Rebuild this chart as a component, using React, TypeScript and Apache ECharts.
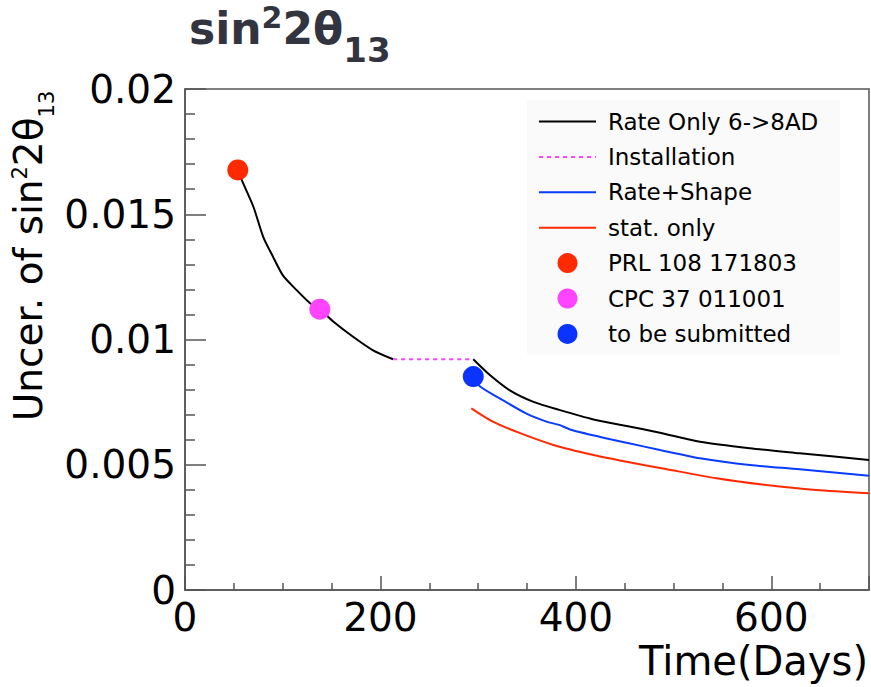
import React, { useEffect, useRef } from "react";
import * as echarts from "echarts";

const FONT = "DejaVu Sans";

// Rate Only 6->8AD, before the installation period
const rateOnlyDaysA = [54, 58, 70, 80, 90, 100, 114, 128, 138, 152, 172, 192, 213];
const rateOnlyUncA = [0.01677, 0.01637, 0.0153, 0.0141, 0.01331, 0.01257, 0.01198, 0.01145, 0.01121, 0.01071, 0.01011, 0.00958, 0.00921];
// Installation gap
const installDays = [213, 295];
const installUnc = [0.00921, 0.00921];
// Rate Only 6->8AD, after installation
const rateOnlyDaysB = [295, 312, 332, 356, 383, 418, 452, 486, 527, 578, 629, 700];
const rateOnlyUncB = [0.00921, 0.00858, 0.00798, 0.00752, 0.00719, 0.00681, 0.00655, 0.00628, 0.00592, 0.00566, 0.00546, 0.00519];
// Rate+Shape
const rateShapeDays = [295, 302, 322, 349, 370, 383, 394, 424, 452, 486, 527, 578, 629, 700];
const rateShapeUnc = [0.0085, 0.00812, 0.00765, 0.00705, 0.00672, 0.00659, 0.00641, 0.00612, 0.00588, 0.00559, 0.00526, 0.00499, 0.00482, 0.00456];
// stat. only
const statDays = [293, 315, 343, 377, 418, 452, 492, 544, 595, 646, 700];
const statUnc = [0.00725, 0.00672, 0.00626, 0.00579, 0.00539, 0.00512, 0.00483, 0.00446, 0.00419, 0.00399, 0.00386];
// Published / planned results
const prlPoint = [54, 0.01677];
const cpcPoint = [138, 0.01121];
const submitPoint = [295, 0.00852];

const legendNames = [
  "Rate Only 6->8AD",
  "Installation",
  "Rate+Shape",
  "stat. only",
  "PRL 108 171803",
  "CPC 37 011001",
  "to be submitted",
];

const zip = (xs: number[], ys: number[]) => xs.map((x, i) => [x, ys[i]]);

export default function App() {
  const ref = useRef<HTMLDivElement>(null);
  useEffect(() => {
    if (!ref.current) return;
    const chart = echarts.init(ref.current, undefined, { renderer: "svg" });
    const axisColor = "#555";
    const lineSeries = (name: string, data: number[][], color: string, type: any = "solid") => ({
      type: "line",
      name,
      data,
      symbol: "none",
      smooth: 0.25,
      lineStyle: { color, width: 2, type },
      itemStyle: { color },
      z: 2,
    });
    const dotSeries = (name: string, p: number[], color: string) => ({
      type: "scatter",
      name,
      data: [p],
      symbol: "circle",
      symbolSize: 21,
      itemStyle: { color, opacity: 1 },
      z: 5,
    });
    chart.setOption({
      animation: false,
      backgroundColor: "#ffffff",
      grid: {
        left: 185,
        right: 2,
        top: 89,
        bottom: 97,
        show: true,
        borderColor: axisColor,
        borderWidth: 1.5,
        backgroundColor: "transparent",
        outerBoundsMode: "none",
      },
      xAxis: {
        type: "value",
        min: 0,
        max: 700,
        interval: 200,
        axisLine: { show: true, lineStyle: { color: axisColor, width: 1.5 } },
        axisTick: { show: true, inside: true, length: 14, lineStyle: { color: axisColor, width: 1.5 } },
        minorTick: { show: true, splitNumber: 4, length: 7, lineStyle: { color: axisColor, width: 1.5 } },
        splitLine: { show: false },
        axisLabel: { fontFamily: FONT, fontSize: 39, color: "#000", margin: 8, showMaxLabel: false },
      },
      yAxis: {
        type: "value",
        min: 0,
        max: 0.02,
        interval: 0.005,
        axisLine: { show: true, lineStyle: { color: axisColor, width: 1.5 } },
        axisTick: { show: true, inside: true, length: 21, lineStyle: { color: axisColor, width: 1.5 } },
        minorTick: { show: true, splitNumber: 5, length: 10, lineStyle: { color: axisColor, width: 1.5 } },
        splitLine: { show: false },
        axisLabel: { fontFamily: FONT, fontSize: 39, color: "#000", margin: 9, padding: [10, 0, 0, 0] },
      },
      legend: {
        orient: "vertical",
        left: 527,
        top: 100,
        padding: [10, 22, 9, 11],
        backgroundColor: "#fafafa",
        itemWidth: 57,
        itemHeight: 20,
        itemGap: 12.4,
        selectedMode: false,
        data: legendNames.map((name, i) => (i < 4 ? { name, itemStyle: { opacity: 0 } } : { name })),
        textStyle: { fontFamily: FONT, fontSize: 23, color: "#000", padding: [0, 0, 0, 7] },
      },
      graphic: [
        {
          type: "text",
          x: 189,
          y: 28,
          style: {
            text: "{a|sin}{b|2}{a|2θ}{c|13}",
            align: "left",
            verticalAlign: "middle",
            fill: "#32343f",
            rich: {
              a: { fontFamily: FONT, fontWeight: "bold", fontSize: 44, fill: "#32343f" },
              b: { fontFamily: FONT, fontWeight: "bold", fontSize: 30, padding: [0, 0, 22, 0], fill: "#32343f" },
              c: { fontFamily: FONT, fontWeight: "bold", fontSize: 34, padding: [44, 0, 0, 0], fill: "#32343f" },
            },
          },
        },
        {
          type: "text",
          x: 28,
          y: 256,
          rotation: Math.PI / 2,
          style: {
            text: "{a|Uncer. of sin}{b|2}{a|2θ}{c|13}",
            align: "center",
            verticalAlign: "middle",
            fill: "#000",
            rich: {
              a: { fontFamily: FONT, fontSize: 39, fill: "#000" },
              b: { fontFamily: FONT, fontSize: 21, padding: [0, 0, 16, 0], fill: "#000" },
              c: { fontFamily: FONT, fontSize: 21, padding: [38, 0, 0, 0], fill: "#000" },
            },
          },
        },
        {
          type: "text",
          x: 868,
          y: 661,
          style: {
            text: "Time(Days)",
            align: "right",
            verticalAlign: "middle",
            fontFamily: FONT,
            fontSize: 40,
            fill: "#000",
          },
        },
      ],
      series: [
        lineSeries(legendNames[0], zip(rateOnlyDaysA, rateOnlyUncA), "#000000"),
        lineSeries(legendNames[1], zip(installDays, installUnc), "#ff44ff", [4, 4]),
        lineSeries(legendNames[0], zip(rateOnlyDaysB, rateOnlyUncB), "#000000"),
        lineSeries(legendNames[2], zip(rateShapeDays, rateShapeUnc), "#0a3cff"),
        lineSeries(legendNames[3], zip(statDays, statUnc), "#ff2a00"),
        dotSeries(legendNames[4], prlPoint, "#ff2a00"),
        dotSeries(legendNames[5], cpcPoint, "#ff44ff"),
        dotSeries(legendNames[6], submitPoint, "#0a33ff"),
      ],
    });
    return () => chart.dispose();
  }, []);
  return (
    <div
      ref={ref}
      style={{ position: "fixed", left: 0, top: 0, width: 871, height: 687, background: "#fff" }}
    />
  );
}
